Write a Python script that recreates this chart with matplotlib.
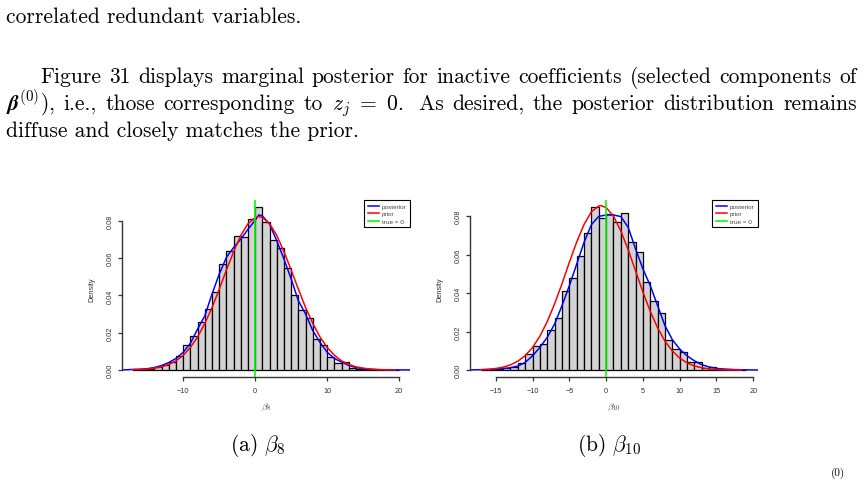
import matplotlib
matplotlib.use('Agg')
import matplotlib.pyplot as plt
from matplotlib.ticker import FormatStrFormatter

plt.rcParams['font.family'] = 'Liberation Sans'
plt.rcParams['mathtext.fontset'] = 'cm'

W, H = 864, 481
FS = 15.5  # body text size

# ---- panel (a): beta_8 ----
edges_b8 = list(range(-17, 21))
dens_b8 = [0.0003, 0.0004, 0.0007, 0.0014, 0.0027, 0.0041, 0.0077, 0.0134, 0.0180,
           0.0260, 0.0329, 0.0420, 0.0570, 0.0636, 0.0720, 0.0716, 0.0812, 0.0875,
           0.0793, 0.0700, 0.0657, 0.0546, 0.0404, 0.0321, 0.0277, 0.0167, 0.0135,
           0.0072, 0.0036, 0.0041, 0.0012, 0.0005, 0.0003, 0.0002, 0.0001, 0.0001,
           0.0001]
post_x_b8 = [-18.5, -18, -17, -16, -15, -14, -13, -12, -11, -10, -9, -8, -7, -6, -5,
             -4, -3, -2, -1, 0, 0.5, 1, 2, 3, 4, 5, 6, 7, 8, 9, 10, 11, 12, 13, 14,
             15, 16, 17, 18, 19, 20, 21, 21.5]
post_y_b8 = [0.00005, 0.0001, 0.0003, 0.0004, 0.0007, 0.0013, 0.0024, 0.0040, 0.0062,
             0.0095, 0.0143, 0.0220, 0.0290, 0.0407, 0.0514, 0.0604, 0.0657, 0.0702,
             0.0755, 0.0804, 0.0832, 0.0827, 0.0782, 0.0693, 0.0595, 0.0488, 0.0371,
             0.0300, 0.0211, 0.0148, 0.0095, 0.0062, 0.0042, 0.0025, 0.0013, 0.0007,
             0.0004, 0.0002, 0.0001, 0.0001, 0.00005, 0.00003, 0.00002]
prior_x_b8 = [-17, -16, -15, -14, -13, -12, -11, -10, -9, -8, -7, -6, -5, -4, -3, -2,
              -1, 0, 0.5, 1, 2, 3, 4, 5, 6, 7, 8, 9, 10, 11, 12, 13, 14, 15, 16, 17,
              18, 19, 19.5]
prior_y_b8 = [0.00016, 0.00025, 0.0005, 0.0010, 0.0017, 0.0030, 0.0049, 0.0079,
              0.0121, 0.0177, 0.0250, 0.0335, 0.0433, 0.0536, 0.0634, 0.0722, 0.0785,
              0.0818, 0.0823, 0.0818, 0.0785, 0.0722, 0.0634, 0.0536, 0.0433, 0.0335,
              0.0250, 0.0177, 0.0121, 0.0079, 0.0049, 0.0030, 0.0017, 0.0010, 0.0005,
              0.00025, 0.00016, 0.0001, 0.00007]

# ---- panel (b): beta_10 ----
edges_b10 = list(range(-17, 20))
dens_b10 = [0.0001, 0.0002, 0.0003, 0.0009, 0.0017, 0.0035, 0.0081, 0.0125, 0.0135,
            0.0209, 0.0268, 0.0409, 0.0479, 0.0590, 0.0712, 0.0849, 0.0788, 0.0810,
            0.0770, 0.0814, 0.0667, 0.0611, 0.0455, 0.0357, 0.0298, 0.0156, 0.0107,
            0.0093, 0.0043, 0.0043, 0.0013, 0.0014, 0.0005, 0.0003, 0.0001, 0.0002]
post_x_b10 = [-18.5, -18, -17, -16, -15, -14, -13, -12, -11, -10, -9, -8, -7, -6, -5,
              -4, -3, -2, -1, 0, 1, 2, 3, 4, 5, 6, 7, 8, 9, 10, 11, 12, 13, 14, 15,
              16, 17, 18, 19, 20, 20.7]
post_y_b10 = [0.00005, 0.0001, 0.0002, 0.0003, 0.0005, 0.0008, 0.0012, 0.0021, 0.0040,
              0.0074, 0.0118, 0.0170, 0.0239, 0.0334, 0.0438, 0.0550, 0.0663, 0.0755,
              0.0798, 0.0805, 0.0805, 0.0797, 0.0741, 0.0629, 0.0525, 0.0438, 0.0334,
              0.0230, 0.0158, 0.0109, 0.0074, 0.0048, 0.0028, 0.0016, 0.0009, 0.0005,
              0.0003, 0.0002, 0.0001, 0.00005, 0.00003]
prior_x_b10 = [-17, -16, -15, -14, -13, -12, -11, -10, -9, -8, -7, -6, -5, -4, -3, -2,
               -1, -0.7, 0, 1, 2, 3, 4, 5, 6, 7, 8, 9, 10, 11, 12, 13, 14, 15, 16, 17,
               18, 18.4]
prior_y_b10 = [0.00019, 0.0004, 0.0008, 0.0015, 0.0027, 0.0046, 0.0075, 0.0117, 0.0176,
               0.0252, 0.0344, 0.0448, 0.0559, 0.0665, 0.0756, 0.0822, 0.0852, 0.0854,
               0.0844, 0.0799, 0.0722, 0.0624, 0.0515, 0.0405, 0.0305, 0.0219, 0.0150,
               0.0099, 0.0062, 0.0037, 0.0021, 0.0012, 0.0006, 0.0003, 0.00015, 0.00007,
               0.00003, 0.00002]

yticks = [0.00, 0.02, 0.04, 0.06, 0.08]
legend_labels = ['posterior', 'prior', 'true = 0']

fig = plt.figure(figsize=(W / 100, H / 100), dpi=100)


def px_box(x0, y0, x1, y1):
    return [x0 / W, 1 - y1 / H, (x1 - x0) / W, (y1 - y0) / H]


def panel(ax, edges, dens, px, py, qx, qy, xlim, ylim, xticks, xlab):
    ax.bar(edges[:-1], dens, width=1, align='edge', color='#d3d3d3',
           edgecolor='black', linewidth=0.9, zorder=1)
    ax.plot(px, py, color='blue', lw=1.1, label=legend_labels[0], zorder=2)
    ax.plot(qx, qy, color='red', lw=1.1, label=legend_labels[1], zorder=3)
    ax.axvline(0, color='#00ff00', lw=1.2, label=legend_labels[2], zorder=4)
    ax.set_xlim(xlim)
    ax.set_ylim(ylim)
    ax.patch.set_visible(False)
    for s in ['top', 'right']:
        ax.spines[s].set_visible(False)
    for s in ['left', 'bottom']:
        ax.spines[s].set_color('#333333')
        ax.spines[s].set_linewidth(1.0)
    ax.spines['bottom'].set_bounds(xticks[0], xticks[-1])
    ax.spines['left'].set_bounds(0, 0.08)
    ax.set_xticks(xticks)
    ax.set_yticks(yticks)
    ax.yaxis.set_major_formatter(FormatStrFormatter('%.2f'))
    ax.tick_params(length=3.2, width=0.9, color='#333333', labelsize=5.3,
                   labelcolor='#333333')
    ax.tick_params(axis='x', pad=4)
    ax.tick_params(axis='y', pad=2.5, labelrotation=90)
    for t in ax.get_yticklabels():
        t.set_va('center')
    leg = ax.legend(loc='upper right', borderaxespad=0, fontsize=4.6,
                    fancybox=False, edgecolor='black', framealpha=1,
                    handlelength=1.7, handletextpad=0.5, labelspacing=0.3,
                    borderpad=0.55)
    leg.get_frame().set_linewidth(0.8)
    for t in leg.get_texts():
        t.set_color('#444444')
    ax.text(0.5, -0.165, xlab, transform=ax.transAxes, ha='center', va='center',
            fontsize=7, color='#444444')
    ax.text(-0.104, 0.5, 'Density', transform=ax.transAxes, rotation=90,
            ha='center', va='center', fontsize=5.3, color='#333333')


ax1 = fig.add_axes(px_box(122, 201, 410, 378))
panel(ax1, edges_b8, dens_b8, post_x_b8, post_y_b8, prior_x_b8, prior_y_b8,
      (-18.5, 21.5), (-0.00375, 0.0912), [-10, 0, 10, 20], r'$\beta_8$')

ax2 = fig.add_axes(px_box(470, 201, 758, 378))
panel(ax2, edges_b10, dens_b10, post_x_b10, post_y_b10, prior_x_b10, prior_y_b10,
      (-18.5, 20.64), (-0.0036, 0.0883), [-15, -10, -5, 0, 5, 10, 15, 20],
      r'$\beta_{10}$')

# ---- page text ----
renderer = fig.canvas.get_renderer()


def put(text, x, y, **kw):
    return fig.text(x / W, 1 - y / H, text, family='cmr10', fontsize=FS,
                    va='baseline', **kw)


def justify(words, y, x0, x1):
    arts = [put(w, x0, y) for w in words]
    widths = [a.get_window_extent(renderer).width for a in arts]
    gap = (x1 - x0 - sum(widths)) / (len(words) - 1)
    x = x0
    for a, wd in zip(arts, widths):
        a.set_x(x / W)
        x += wd + gap


put('correlated redundant variables.', 6, 23)
justify('Figure 31 displays marginal posterior for inactive coefficients '
        '(selected components of'.split(), 83, 40, 857)
justify([r'$\boldsymbol{\beta}^{(0)}$),', 'i.e.,', 'those', 'corresponding', 'to',
         r'$z_j\ =\ 0$.', ' As', 'desired,', 'the', 'posterior',
         'distribution', 'remains'], 110, 6, 857)
put('diffuse and closely matches the prior.', 6, 137)

put(r'(a) $\beta_8$', 258, 451, ha='center')
put(r'(b) $\beta_{10}$', 609, 451, ha='center')
fig.text(838 / W, 1 - 479 / H, '(0)', family='cmr10', fontsize=8, ha='center',
         va='bottom')

fig.savefig('out.png', dpi=100)
